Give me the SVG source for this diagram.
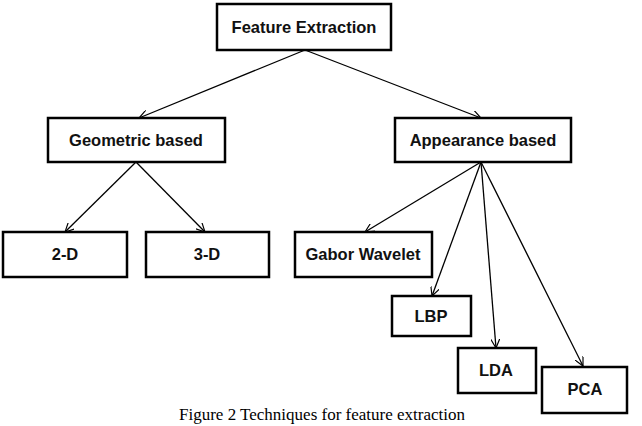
<svg xmlns="http://www.w3.org/2000/svg" width="642" height="426" viewBox="0 0 642 426">
<style>
.box{fill:#fff;stroke:#000;stroke-width:2.5}
.lbl{font-family:"Liberation Sans",Arial,sans-serif;font-weight:bold;font-size:16.5px;text-anchor:middle;fill:#111}
.ln{stroke:#000;stroke-width:1.3;fill:none;marker-end:url(#ah)}
.cap{font-family:"Liberation Serif","Times New Roman",serif;font-size:17px;text-anchor:middle;fill:#000}
</style>
<defs>
<marker id="ah" viewBox="0 0 10 10" refX="10" refY="5" markerWidth="9" markerHeight="9" orient="auto" markerUnits="userSpaceOnUse">
<path d="M0,0 L10,5 L0,10" fill="none" stroke="#000" stroke-width="1.3"/>
</marker>
</defs>
<rect width="642" height="426" fill="#fff"/>
<g id="connectors">
<line class="ln" x1="305" y1="50" x2="139" y2="118"/>
<line class="ln" x1="305" y1="50" x2="481" y2="118"/>
<line class="ln" x1="136" y1="162" x2="65" y2="232"/>
<line class="ln" x1="136" y1="162" x2="205" y2="232"/>
<line class="ln" x1="481" y1="162" x2="365" y2="232"/>
<line class="ln" x1="481" y1="162" x2="432" y2="296"/>
<line class="ln" x1="481" y1="162" x2="496" y2="348"/>
<line class="ln" x1="481" y1="162" x2="583" y2="366"/>
</g>
<g id="feature-extraction"><rect class="box" x="217" y="4" width="174" height="46"/><text class="lbl" x="304" y="33">Feature Extraction</text></g>
<g id="geometric"><rect class="box" x="48" y="118" width="177" height="44"/><text class="lbl" x="136" y="146">Geometric based</text></g>
<g id="appearance"><rect class="box" x="395" y="118" width="176" height="44"/><text class="lbl" x="483" y="146">Appearance based</text></g>
<g id="n2d"><rect class="box" x="3" y="232" width="124" height="45"/><text class="lbl" x="65" y="260">2-D</text></g>
<g id="n3d"><rect class="box" x="146" y="232" width="123" height="45"/><text class="lbl" x="207" y="260">3-D</text></g>
<g id="gabor"><rect class="box" x="295" y="232" width="137" height="45"/><text class="lbl" x="363" y="260">Gabor Wavelet</text></g>
<g id="lbp"><rect class="box" x="392" y="296" width="79" height="40"/><text class="lbl" x="431" y="322">LBP</text></g>
<g id="lda"><rect class="box" x="458" y="348" width="78" height="45"/><text class="lbl" x="496" y="376">LDA</text></g>
<g id="pca"><rect class="box" x="542" y="367" width="85" height="46"/><text class="lbl" x="585" y="395">PCA</text></g>
<text class="cap" x="322" y="420">Figure 2 Techniques for feature extraction</text>
</svg>
